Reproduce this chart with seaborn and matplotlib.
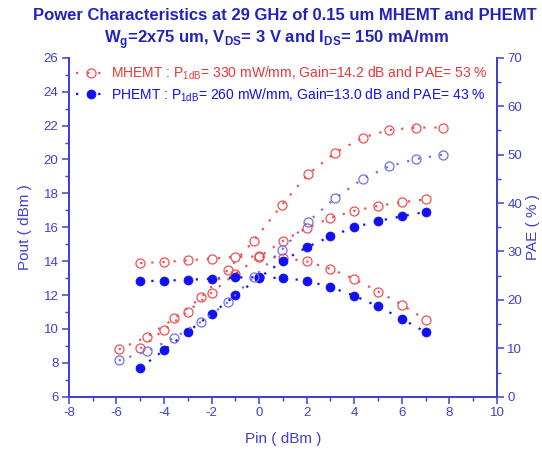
import matplotlib
matplotlib.use("Agg")
import matplotlib.pyplot as plt
import seaborn as sns
import numpy as np
from matplotlib.ticker import MultipleLocator

sns.set_theme(style="white")
plt.rcParams['font.family'] = ['Liberation Sans', 'DejaVu Sans']
plt.rcParams['mathtext.fontset'] = 'custom'
plt.rcParams['mathtext.rm'] = 'Liberation Sans'
plt.rcParams['mathtext.bf'] = 'Liberation Sans:bold'
plt.rcParams['axes.unicode_minus'] = False

# ---- data ----
pin = [-5, -4, -3, -2, -1, 0, 1, 2, 3, 4, 5, 6, 7]
pin_pae = [-5.9, -4.7, -3.56, -2.44, -1.32, -0.23, 0.97, 2.04, 3.2, 4.35, 5.47, 6.6, 7.74]

m_pout = [8.85, 9.95, 11.03, 12.15, 13.25, 14.25, 15.2, 15.96, 16.55, 16.97, 17.26, 17.48, 17.64]
m_gain = [13.89, 13.95, 14.05, 14.15, 14.25, 14.28, 14.2, 13.99, 13.54, 12.95, 12.21, 11.43, 10.54]
m_pae = [9.8, 12.4, 16.2, 20.5, 26.2, 32.2, 39.7, 45.9, 50.4, 53.5, 55.1, 55.6, 55.6]

p_pout = [7.7, 8.75, 9.83, 10.89, 11.98, 13.02, 14.02, 14.82, 15.46, 16.0, 16.37, 16.65, 16.91]
p_gain = [12.82, 12.85, 12.9, 12.96, 13.04, 13.05, 13.0, 12.85, 12.47, 11.96, 11.33, 10.6, 9.81]
p_pae = [7.5, 9.46, 12.2, 15.5, 19.5, 24.7, 30.4, 36.1, 41.0, 45.0, 47.6, 49.1, 50.0]

labels = [r"MHEMT : P$_{\mathregular{1dB}}$= 330 mW/mm, Gain=14.2 dB and PAE= 53 %",
          r"PHEMT : P$_{\mathregular{1dB}}$= 260 mW/mm, Gain=13.0 dB and PAE= 43 %"]

RED = "#f25050"
RED_T = "#e83838"
BLUE = "#1010f0"
BLUE_L = "#7070ee"
AXC = "#4040cc"

fig = plt.figure(figsize=(5.42, 4.55), dpi=100)
ax = fig.add_axes([0.127, 0.128, 0.79, 0.745])
ax2 = ax.twinx()

ls = (0, (1, 4))
kw_open = dict(marker='o', markersize=6.5, markerfacecolor='none', markeredgewidth=0.9,
               linestyle=ls, linewidth=1.6)
kw_fill = dict(marker='o', markersize=6.5, markeredgewidth=0.5, linestyle=ls, linewidth=1.6)

sns.lineplot(x=pin, y=m_pout, ax=ax, color=RED, markeredgecolor=RED, label=labels[0], **kw_open)
sns.lineplot(x=pin, y=m_gain, ax=ax, color=RED, markeredgecolor=RED, **kw_open)
sns.lineplot(x=pin_pae, y=m_pae, ax=ax2, color=RED, markeredgecolor=RED, **kw_open)

sns.lineplot(x=pin, y=p_pout, ax=ax, color=BLUE, markeredgecolor=BLUE, markerfacecolor=BLUE,
             label=labels[1], **kw_fill)
sns.lineplot(x=pin, y=p_gain, ax=ax, color=BLUE, markeredgecolor=BLUE, markerfacecolor=BLUE, **kw_fill)
sns.lineplot(x=pin_pae, y=p_pae, ax=ax2, color=BLUE_L, markeredgecolor=BLUE_L, **kw_open)

if ax2.get_legend() is not None:
    ax2.get_legend().remove()

ax.set_xlim(-8, 10)
ax.set_ylim(6, 26)
ax2.set_ylim(0, 70)
ax.xaxis.set_major_locator(MultipleLocator(2))
ax.xaxis.set_minor_locator(MultipleLocator(1))
ax.yaxis.set_major_locator(MultipleLocator(2))
ax.yaxis.set_minor_locator(MultipleLocator(1))
ax2.yaxis.set_major_locator(MultipleLocator(10))
ax2.yaxis.set_minor_locator(MultipleLocator(5))

for a in (ax, ax2):
    a.spines['top'].set_visible(False)
    for s in ('left', 'right', 'bottom'):
        a.spines[s].set_color(AXC)
        a.spines[s].set_linewidth(1.3)
    a.tick_params(which='both', direction='out', colors=AXC, labelcolor=AXC, labelsize=9.5, pad=2.5)
    a.tick_params(which='major', length=5, width=1.1)
    a.tick_params(which='minor', length=3, width=1.0)
ax.tick_params(axis='y', which='both', left=True, right=False)
ax.tick_params(axis='x', which='both', bottom=True)
ax2.tick_params(axis='y', which='both', right=True, left=False)

ax.set_xlabel("Pin ( dBm )", color=AXC, fontsize=11, labelpad=9)
ax.set_ylabel("Pout ( dBm )", color=AXC, fontsize=11, labelpad=8)
ax2.set_ylabel("PAE ( % )", color=AXC, fontsize=11, labelpad=3, rotation=90)

leg = ax.legend(loc='upper left', frameon=False, fontsize=10, handlelength=2.2,
                handletextpad=0.3, borderaxespad=0.1, labelspacing=0.3,
                bbox_to_anchor=(0.0, 1.0))
for t, c in zip(leg.get_texts(), [RED_T, BLUE]):
    t.set_color(c)

fig.text(0.525, 0.965, "Power Characteristics at 29 GHz of 0.15 um MHEMT and PHEMT",
         ha='center', va='center', fontsize=12, fontweight='bold', color="#2222c0")
fig.text(0.51, 0.912,
         r"W$_{\mathbf{g}}$=2x75 um, V$_{\mathbf{DS}}$= 3 V and I$_{\mathbf{DS}}$= 150 mA/mm",
         ha='center', va='center', fontsize=12, fontweight='bold', color="#2222c0")

fig.savefig("out.png", dpi=100)
